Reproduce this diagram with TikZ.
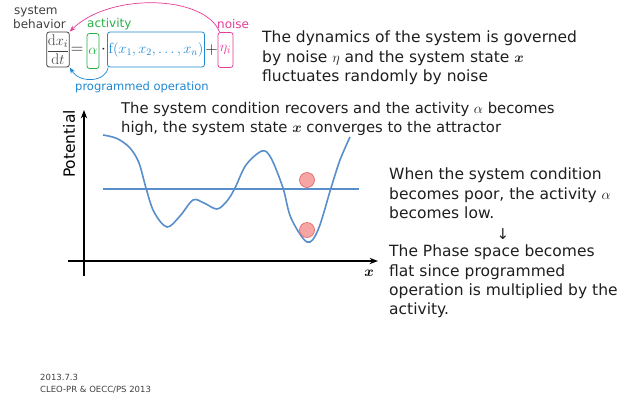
\documentclass[tikz,border=0pt]{standalone}
\usepackage{amsmath}
\usepackage{fontspec}
\setsansfont{DejaVu Sans}
\usepackage{bm}
\usetikzlibrary{arrows.meta,positioning}
\definecolor{actgreen}{RGB}{40,175,70}
\definecolor{progblue}{RGB}{30,135,210}
\definecolor{noisemag}{RGB}{228,60,150}
\definecolor{curveblue}{RGB}{88,142,202}
\definecolor{ballfill}{RGB}{246,165,165}
\definecolor{balledge}{RGB}{222,95,95}
\definecolor{txtdark}{RGB}{30,30,30}
\definecolor{lblgray}{RGB}{64,64,64}

\begin{document}
\begin{tikzpicture}[x=1pt,y=-1pt,>=Stealth,font=\sffamily\fontsize{15}{18}\selectfont,
 term/.style={draw,rounded corners=2.5pt,inner sep=1pt,minimum height=35pt,line width=0.8pt,font=\fontsize{15.5}{18}\selectfont},
 lbl/.style={font=\sffamily\fontsize{12}{12}\selectfont,anchor=west,inner sep=0pt},
 para/.style={anchor=north west,align=left,inner sep=0pt,text=txtdark,font=\sffamily\fontsize{15.5}{19.3}\selectfont},
 curve/.style={curveblue,line width=1.6pt},
 ball/.style={circle,draw=balledge,fill=ballfill,minimum size=15pt,inner sep=0pt,line width=0.6pt}]
\useasboundingbox (0,0) rectangle (632,397);
% equation with boxed terms
\node[term,lblgray,inner sep=0pt] (dxdt) at (58,49.5) {$\dfrac{\mathrm{d}x_i}{\mathrm{d}t}$};
\node[text=txtdark,font=\fontsize{16}{18}\selectfont] (eq) at (77,50) {$=$};
\node[term,actgreen,minimum width=12pt] (alpha) at (93,51) {$\alpha$};
\node[text=txtdark,font=\fontsize{16}{18}\selectfont] (cdot) at (103.5,50) {$\cdot$};
\node[term,progblue,minimum width=97pt,inner sep=0pt,font=\fontsize{14.8}{18}\selectfont] (func) at (156,49.5) {$\mathrm{f}(x_1,x_2,\ldots,x_n)$};
\node[text=txtdark,font=\fontsize{16}{18}\selectfont] (plus) at (211.5,50) {$+$};
\node[term,noisemag,minimum width=15pt] (noise) at (225.5,50) {$\eta_i$};
\node[lbl,text=lblgray] (sys) at (14,12) {system};
\node[lbl,text=lblgray] (beh) at (13,24) {behavior};
\node[lbl,text=actgreen] (act) at (87,24) {activity};
\node[lbl,text=noisemag] (nse) at (217,24) {noise};
\node[lbl,text=progblue,font=\sffamily\fontsize{11.5}{12}\selectfont] (prog) at (75,87) {programmed operation};
\draw[->,noisemag,line width=0.7pt] ([xshift=2pt]noise.north west) .. controls (205,-5) and (110,-8) .. (dxdt.north east);
\draw[->,progblue,line width=0.7pt] ([xshift=1pt]func.south west) .. controls (106,82) and (80,84) .. (dxdt.south east);

\node[para] (dyn) at (262,31) {The dynamics of the system is governed\\by noise $\eta$ and the system state $\bm{x}$\\fluctuates randomly by noise};
\node[para,font=\sffamily\fontsize{14.8}{19.5}\selectfont] (recov) at (121,102) {The system condition recovers and the activity $\alpha$ becomes\\high, the system state $\bm{x}$ converges to the attractor};

% potential landscape
\coordinate (ybot) at (84,276);
\coordinate (ytop) at (84,110);
\coordinate (xlft) at (68,261);
\coordinate (xrgt) at (378,261);
\draw[->,line width=1.2pt] (ybot) -- (ytop);
\draw[->,line width=1.2pt] (xlft) -- (xrgt);
\node[rotate=90,font=\sffamily\fontsize{15.5}{18}\selectfont] (pot) at (69,144) {Potential};
\node (xlbl) at (369,273) {$\bm{x}$};
\draw[curve] plot[smooth,tension=0.55] coordinates {(103,135) (117,138.5) (130,148) (139,163) (146,188) (154,212) (167,227) (180,216) (193,200) (204,203) (217,209) (227,201) (235,188) (246,165) (262,151) (271,158) (283,188) (291,218) (307,242) (318,230) (331,188) (340,160) (350,137)};
\coordinate (flatl) at (103,189);
\coordinate (flatr) at (359,189);
\draw[curve] (flatl) -- (flatr);
\node[ball] (ballhi) at (307,180) {};
\node[ball] (balllo) at (307,230) {};

\node[para] (poor) at (389,168) {When the system condition\\becomes poor, the activity $\alpha$\\becomes low.};
\node[text=txtdark,font=\sffamily\fontsize{15}{18}\selectfont] (down) at (503,234) {↓};
\node[para] (flat) at (389,245) {The Phase space becomes\\flat since programmed\\operation is multiplied by the\\activity.};

\node[anchor=west,inner sep=0pt,text=lblgray,font=\sffamily\fontsize{8.5}{10}\selectfont] (date) at (40,377) {2013.7.3};
\node[anchor=west,inner sep=0pt,text=lblgray,font=\sffamily\fontsize{8.5}{10}\selectfont] (conf) at (40,390) {CLEO-PR \& OECC/PS 2013};
\end{tikzpicture}
\end{document}
